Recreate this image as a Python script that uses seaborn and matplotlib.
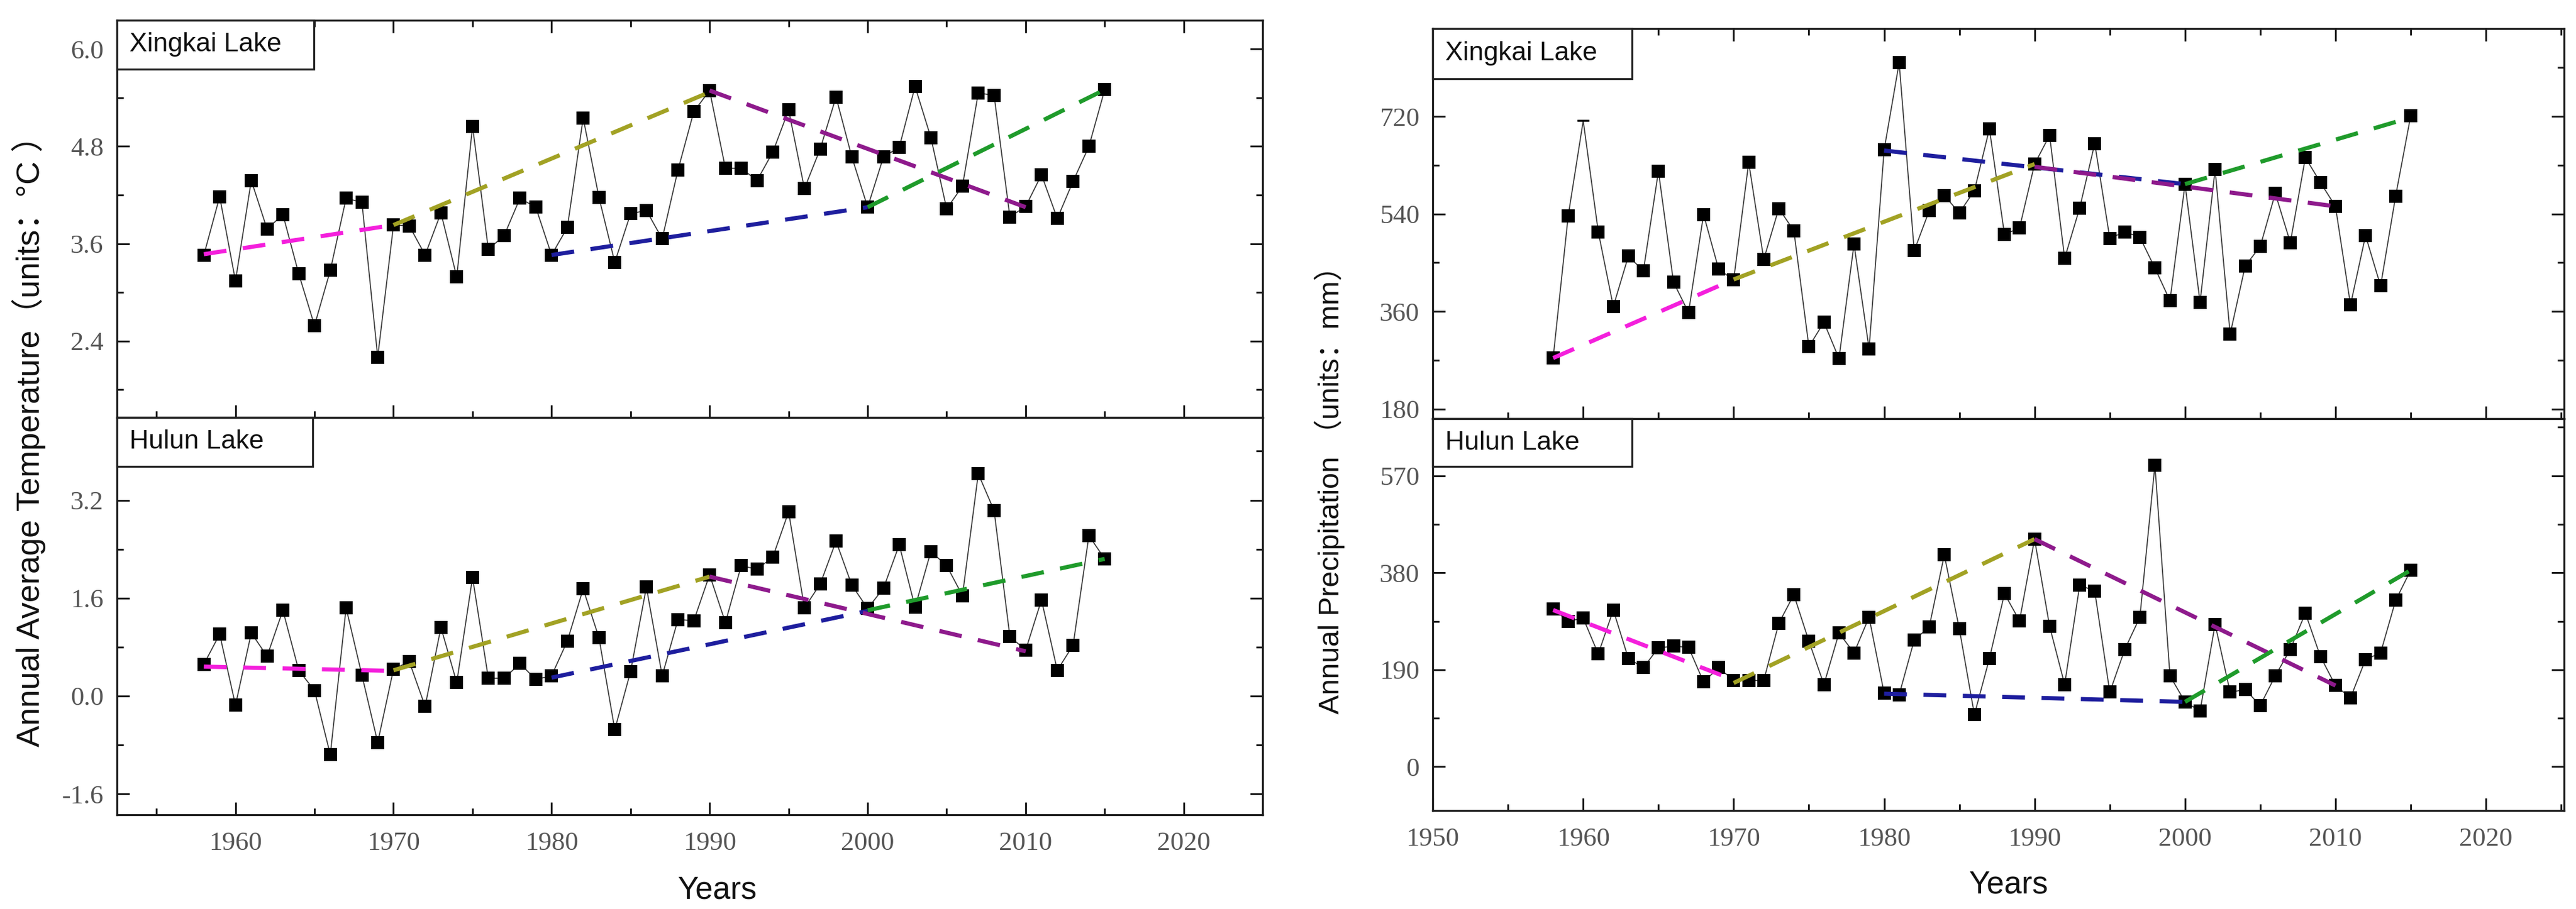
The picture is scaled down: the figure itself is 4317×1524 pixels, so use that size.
import matplotlib.pyplot as plt
import matplotlib.ticker as mticker
from matplotlib.patches import Rectangle
import pandas as pd
import seaborn as sns

sns.set_style('ticks')
plt.rcParams['font.family'] = ['Liberation Sans', 'Noto Sans CJK SC', 'DejaVu Sans']

years = list(range(1958, 2016))

# annual average temperature (°C)
xingkai_temp = [
    3.46, 4.18, 3.14, 4.38, 3.78, 3.96, 3.23, 2.59, 3.27, 4.16,
    4.11, 2.20, 3.83, 3.82, 3.46, 3.98, 3.19, 5.05, 3.53, 3.70,
    4.16, 4.05, 3.46, 3.80, 5.15, 4.17, 3.37, 3.97, 4.01, 3.66,
    4.51, 5.23, 5.49, 4.53, 4.53, 4.38, 4.73, 5.25, 4.28, 4.77,
    5.41, 4.67, 4.05, 4.67, 4.79, 5.54, 4.91, 4.03, 4.31, 5.46,
    5.43, 3.93, 4.06, 4.45, 3.91, 4.37, 4.80, 5.50,
]
hulun_temp = [
    0.52, 1.01, -0.15, 1.03, 0.65, 1.40, 0.42, 0.09, -0.96, 1.44,
    0.34, -0.76, 0.44, 0.56, -0.17, 1.12, 0.22, 1.94, 0.29, 0.29,
    0.53, 0.27, 0.33, 0.90, 1.75, 0.95, -0.55, 0.40, 1.78, 0.33,
    1.25, 1.23, 1.98, 1.20, 2.13, 2.07, 2.27, 3.01, 1.44, 1.83,
    2.53, 1.81, 1.43, 1.76, 2.47, 1.45, 2.36, 2.13, 1.64, 3.63,
    3.03, 0.97, 0.75, 1.57, 0.42, 0.83, 2.62, 2.24,
]
# annual precipitation (mm)
xingkai_pre = [
    274, 536, 712, 507, 369, 462, 435, 619, 414, 358,
    539, 438, 418, 635, 456, 550, 509, 295, 340, 273,
    484, 291, 658, 819, 472, 546, 574, 542, 583, 697,
    502, 514, 632, 685, 458, 551, 670, 495, 507, 497,
    440, 380, 595, 377, 622, 318, 444, 480, 578, 487,
    644, 598, 554, 372, 500, 407, 573, 721,
]
hulun_pre = [
    309, 285, 291, 221, 307, 212, 194, 233, 236, 234,
    166, 194, 169, 169, 169, 281, 337, 246, 161, 262,
    223, 293, 144, 141, 248, 274, 415, 270, 102, 212,
    339, 286, 446, 275, 161, 356, 344, 146, 230, 293,
    591, 178, 127, 109, 279, 146, 151, 120, 178, 230,
    301, 216, 159, 135, 210, 223, 326, 385,
]

# piecewise trend lines: periods and (start, end) values per panel
trend_periods = [(1958, 1970), (1970, 1990), (1980, 2000), (1990, 2010), (2000, 2015)]
trend_colors = ['#F41FDC', '#A2A224', '#1E1E9E', '#8E1A8C', '#1F9B2B']
xingkai_temp_trend = [(3.47, 3.83), (3.83, 5.47), (3.46, 4.05), (5.49, 4.05), (4.05, 5.50)]
hulun_temp_trend = [(0.48, 0.41), (0.42, 1.95), (0.30, 1.39), (1.95, 0.73), (1.40, 2.24)]
xingkai_pre_trend = [(274, 419), (419, 632), (657, 595), (627, 554), (595, 718)]
hulun_pre_trend = [(307, 170), (164, 446), (143, 127), (446, 159), (127, 385)]

fig = plt.figure(figsize=(43.17, 15.24), dpi=100)
ax_lt = fig.add_axes([0.0454, 0.5407, 0.4448, 0.4373])
ax_lb = fig.add_axes([0.0454, 0.1037, 0.4448, 0.4370])
ax_rt = fig.add_axes([0.5562, 0.5394, 0.4392, 0.4291])
ax_rb = fig.add_axes([0.5562, 0.1083, 0.4392, 0.4311])


def draw_panel(ax, vals, trend, lake, ylim, yticks, yfmt, xlim, xticks,
               top_panel, box_w, box_h, dash_years=()):
    df = pd.DataFrame({'year': years, 'value': vals})
    sns.lineplot(data=df, x='year', y='value', ax=ax, color='#3a3a3a',
                 linewidth=1.3, zorder=2)
    sq = df[~df['year'].isin(dash_years)]
    sns.scatterplot(data=sq, x='year', y='value', ax=ax, marker='s', s=240,
                    color='black', edgecolor='black', linewidth=0, zorder=3)
    dash = df[df['year'].isin(dash_years)]
    if len(dash):
        ax.plot(dash['year'], dash['value'], marker='_', markersize=15,
                markeredgewidth=2.5, color='black', linestyle='none', zorder=3)
    for (y0, y1), (v0, v1), c in zip(trend_periods, trend, trend_colors):
        sns.lineplot(x=[y0, y1], y=[v0, v1], ax=ax, color=c, linewidth=5,
                     linestyle=(0, (5.5, 4)), zorder=4)

    ax.set_xlim(*xlim)
    ax.set_ylim(*ylim)
    ax.set_yticks(yticks, labels=[yfmt.format(t) for t in yticks],
                  fontfamily='Liberation Serif')
    ax.set_xticks(xticks, labels=[str(t) for t in xticks],
                  fontfamily='Liberation Serif')
    ax.yaxis.set_minor_locator(mticker.AutoMinorLocator(2))
    ax.xaxis.set_minor_locator(mticker.MultipleLocator(5))
    ax.set_xlabel('')
    ax.set_ylabel('')

    for sp in ax.spines.values():
        sp.set_linewidth(2.4)
        sp.set_color('#1a1a1a')
    ax.tick_params(which='both', direction='in', left=True, right=True,
                   bottom=True, top=top_panel, width=2.2, color='#1a1a1a')
    ax.tick_params(which='major', length=15)
    ax.tick_params(which='minor', length=8)
    ax.tick_params(axis='y', which='major', labelsize=32, labelcolor='#555555', pad=16)
    ax.tick_params(axis='x', which='major', labelsize=32, labelcolor='#555555', pad=20,
                   labelbottom=not top_panel)

    ax.add_patch(Rectangle((0, 1 - box_h), box_w, box_h, transform=ax.transAxes,
                           facecolor='white', edgecolor='#222222', linewidth=2.4,
                           zorder=6, clip_on=False))
    ax.text(0.011, 1 - box_h / 2, lake, transform=ax.transAxes, ha='left',
            va='center', fontsize=32, color='#111111', zorder=7)


left_xticks = [1960, 1970, 1980, 1990, 2000, 2010, 2020]
right_xticks = [1950, 1960, 1970, 1980, 1990, 2000, 2010, 2020]

draw_panel(ax_lt, xingkai_temp, xingkai_temp_trend, 'Xingkai Lake',
           (1.455, 6.36), [2.4, 3.6, 4.8, 6.0], '{:.1f}',
           (1952.5, 2025.0), left_xticks, True, 0.172, 0.123)
draw_panel(ax_lb, hulun_temp, hulun_temp_trend, 'Hulun Lake',
           (-1.94, 4.55), [-1.6, 0.0, 1.6, 3.2], '{:.1f}',
           (1952.5, 2025.0), left_xticks, False, 0.171, 0.123)
draw_panel(ax_rt, xingkai_pre, xingkai_pre_trend, 'Xingkai Lake',
           (162, 882), [180, 360, 540, 720], '{:d}',
           (1950, 2025.2), right_xticks, True, 0.176, 0.128, dash_years=(1960,))
draw_panel(ax_rb, hulun_pre, hulun_pre_trend, 'Hulun Lake',
           (-86, 682), [0, 190, 380, 570], '{:d}',
           (1950, 2025.2), right_xticks, False, 0.176, 0.122)

for ax, cx in [(ax_lb, 0.524), (ax_rb, 0.509)]:
    ax.set_xlabel('Years', fontsize=38, color='#111111')
    ax.xaxis.set_label_coords(cx, -0.19)
    ax.xaxis.label.set_va('center')

fig.text(0.0112, 0.5236, 'Annual Average Temperature（units：°C ）', rotation=90,
         ha='center', va='center', fontsize=39, color='#111111')
fig.text(0.5161, 0.469, 'Annual Precipitation （units：mm）', rotation=90,
         ha='center', va='center', fontsize=35, color='#111111')

fig.savefig('out.png', dpi=100, facecolor='white')
